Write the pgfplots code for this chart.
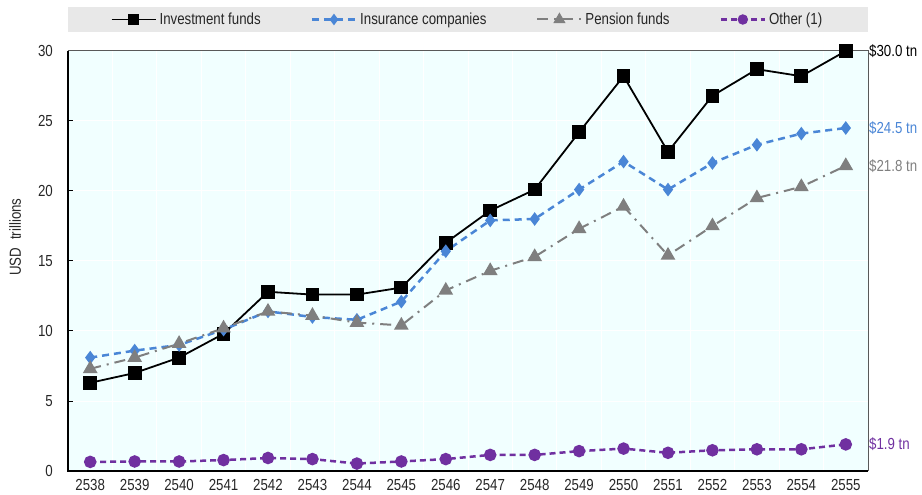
\documentclass[border=0pt]{standalone}
\usepackage{fontspec}
\setmainfont{Liberation Sans}[FakeStretch=0.83]
\usepackage{pgfplots}
\usepackage{pgfplotstable}
\pgfplotsset{compat=1.18}

\definecolor{bgcyan}{HTML}{F1FFFF}
\definecolor{legendgrey}{HTML}{E8E8E8}
\definecolor{insblue}{HTML}{4A86D6}
\definecolor{pengrey}{HTML}{7F7F7F}
\definecolor{othpurple}{HTML}{7030A0}
\definecolor{axisgrey}{HTML}{595959}

\newcommand\chartfont{\fontsize{16bp}{19bp}\selectfont}

% Financial assets by type of investor, USD trillions
\pgfplotstableread{
x  inv   ins   pen   oth
0  6.3   8.1   7.3   0.65
1  7.0   8.6   8.1   0.68
2  8.1   9.0   9.1   0.68
3  9.8   10.1  10.2  0.78
4  12.8  11.4  11.4  0.93
5  12.6  11.0  11.1  0.85
6  12.6  10.8  10.6  0.53
7  13.1  12.1  10.4  0.68
8  16.3  15.7  12.9  0.85
9  18.6  17.9  14.3  1.15
10 20.1  18.0  15.3  1.15
11 24.2  20.1  17.3  1.42
12 28.2  22.1  18.9  1.60
13 22.8  20.1  15.4  1.30
14 26.8  22.0  17.5  1.48
15 28.7  23.3  19.5  1.55
16 28.2  24.1  20.3  1.55
17 30.0  24.5  21.8  1.90
}\datatable

\begin{document}
\begin{tikzpicture}
\begin{axis}[
  scale only axis,
  width=800bp, height=420bp,
  xmin=-0.5, xmax=17.5,
  ymin=0, ymax=30,
  clip=false,
  axis background/.style={fill=bgcyan},
  axis line style={draw=none},
  xtick={0,...,17},
  xticklabels={2538,2539,2540,2541,2542,2543,2544,2545,2546,2547,2548,2549,2550,2551,2552,2553,2554,2555},
  xtick style={draw=none},
  minor x tick num=1,
  minor tick length=5bp,
  minor x tick style={black, line width=1bp},
  xminorgrids,
  minor grid style={white, line width=1bp},
  ytick={0,5,...,30},
  ymajorgrids,
  major grid style={white, line width=1bp},
  major tick length=5bp,
  ytick style={black, line width=1bp},
  tick align=inside,
  xtick pos=bottom, ytick pos=left,
  /pgf/number format/assume math mode=true,
  tick label style={font=\chartfont, text=black!85},
  xticklabel style={inner sep=0pt, yshift=-8bp},
  yticklabel style={inner sep=0pt, xshift=-15bp},
  ylabel={USD\hspace{0.5em}trillions},
  ylabel style={font=\chartfont, text=black!85, at={(axis description cs:-0.066,0.557)}, anchor=center},
  legend columns=4,
  legend style={
    at={(0.5,1.075)}, anchor=center,
    draw=none, fill=none,
    font=\chartfont, text=black!85,
    nodes={inner sep=3bp},
    /tikz/every even column/.append style={column sep=47bp},
  },
  legend image code/.code={
    \draw[mark repeat=2, mark phase=2, #1, every mark/.append style={scale=0.78}]
      plot coordinates {(0bp,0bp) (22bp,0bp) (44bp,0bp)};
  },
]
% grey band behind the legend
\fill[legendgrey] (rel axis cs:0,1.045) rectangle (rel axis cs:1,1.105);

\addplot[black, line width=1.8bp, mark=square*, mark size=6bp, mark options={solid}]
  table[x=x, y=inv] {\datatable};
\addlegendentry{Investment funds}

\addplot[insblue, line width=2.5bp, dash pattern=on 7bp off 5bp, mark=diamond*, mark size=4.8bp, mark options={solid}]
  table[x=x, y=ins] {\datatable};
\addlegendentry{Insurance companies}

\addplot[pengrey, line width=2bp, dash pattern=on 11bp off 6bp on 2bp off 6bp, mark=triangle*, mark size=6.5bp, mark options={solid}]
  table[x=x, y=pen] {\datatable};
\addlegendentry{Pension funds}

\addplot[othpurple, line width=2.5bp, dash pattern=on 6bp off 4bp, mark=*, mark size=5bp, mark options={solid}]
  table[x=x, y=oth] {\datatable};
\addlegendentry{Other (1)}

% axis frame
\draw[axisgrey, line width=1bp] (rel axis cs:0,1) -- (rel axis cs:1,1) -- (rel axis cs:1,0);
\draw[black, line width=2bp] (rel axis cs:0,1) -- (rel axis cs:0,0) -- (rel axis cs:1,0);

% end-of-series totals
\node[anchor=west, font=\chartfont, text=black, inner sep=1bp] at (axis cs:17.5,30.0) {\$30.0 tn};
\node[anchor=west, font=\chartfont, text=insblue, inner sep=1bp] at (axis cs:17.5,24.5) {\$24.5 tn};
\node[anchor=west, font=\chartfont, text=pengrey, inner sep=1bp] at (axis cs:17.5,21.8) {\$21.8 tn};
\node[anchor=west, font=\chartfont, text=othpurple, inner sep=1bp] at (axis cs:17.5,1.9) {\$1.9 tn};

\coordinate (origin) at (rel axis cs:0,0);
\end{axis}
\pgfresetboundingbox
\path (origin) ++(-68bp,-24bp) rectangle ++(922bp,495bp);
\end{tikzpicture}
\end{document}
